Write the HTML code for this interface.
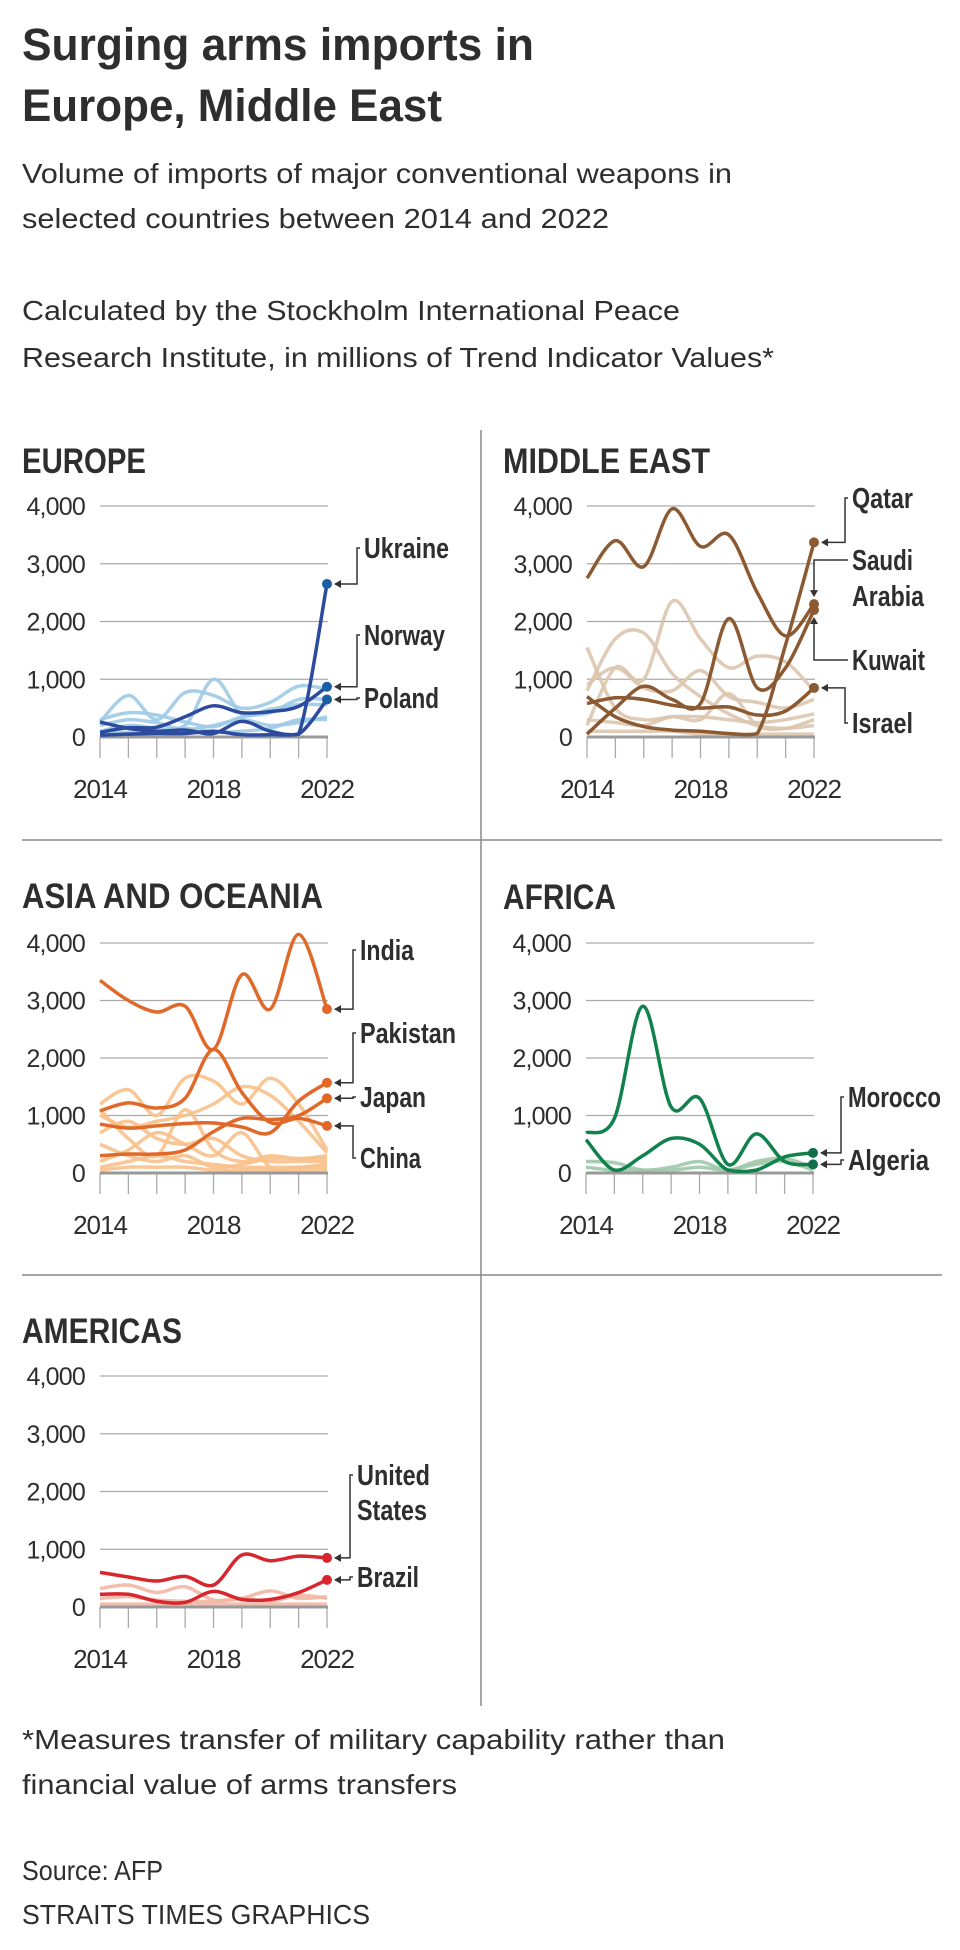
<!DOCTYPE html>
<html><head><meta charset="utf-8"><style>
html,body{margin:0;padding:0;background:#fff;}
svg{display:block;}
text{font-family:"Liberation Sans Narrow","Liberation Sans",sans-serif;fill:#2e2e2e;}
.b{font-weight:bold;}
</style></head><body>
<svg id="chart" width="960" height="1950" viewBox="0 0 960 1950" xmlns="http://www.w3.org/2000/svg">
<text class="b" x="22" y="60" font-size="45" textLength="512" lengthAdjust="spacingAndGlyphs">Surging arms imports in</text>
<text class="b" x="22" y="121" font-size="45" textLength="420" lengthAdjust="spacingAndGlyphs">Europe, Middle East</text>
<text x="22" y="183" font-size="28" textLength="710" lengthAdjust="spacingAndGlyphs">Volume of imports of major conventional weapons in</text>
<text x="22" y="228" font-size="28" textLength="587" lengthAdjust="spacingAndGlyphs">selected countries between 2014 and 2022</text>
<text x="22" y="320" font-size="28" textLength="658" lengthAdjust="spacingAndGlyphs">Calculated by the Stockholm International Peace</text>
<text x="22" y="367" font-size="28" textLength="752" lengthAdjust="spacingAndGlyphs">Research Institute, in millions of Trend Indicator Values*</text>
<line x1="481" y1="430" x2="481" y2="1706" stroke="#888" stroke-width="1.5"/>
<line x1="22" y1="840" x2="942" y2="840" stroke="#888" stroke-width="1.5"/>
<line x1="22" y1="1275" x2="942" y2="1275" stroke="#888" stroke-width="1.5"/>
<g id="panels"></g>
<text x="22" y="1749" font-size="28" textLength="703" lengthAdjust="spacingAndGlyphs">*Measures transfer of military capability rather than</text>
<text x="22" y="1794" font-size="28" textLength="435" lengthAdjust="spacingAndGlyphs">financial value of arms transfers</text>
<text x="22" y="1880" font-size="28" textLength="141" lengthAdjust="spacingAndGlyphs">Source: AFP</text>
<text x="22" y="1924" font-size="28" textLength="348" lengthAdjust="spacingAndGlyphs">STRAITS TIMES GRAPHICS</text>
</svg>
<script>
const years = [2014,2015,2016,2017,2018,2019,2020,2021,2022];
const yTicks = [0,1000,2000,3000,4000];
const yTickLabels = ["0","1,000","2,000","3,000","4,000"];
const xTickLabels = ["2014","2018","2022"];

const europeNames = ["Ukraine","Norway","Poland"];
const europeUkraine = [30,50,60,60,100,40,40,50,2650];
const europeNorway = [80,160,170,350,540,420,440,530,870];
const europePoland = [260,150,100,120,60,270,100,50,650];
const europeOthers = [
 [260,720,300,770,720,500,600,880,830],
 [200,300,250,200,1000,400,480,560,560],
 [300,420,380,260,180,350,420,650,650],
 [100,200,150,120,200,300,200,250,350],
 [50,80,100,150,80,100,150,300,300]];

const meNames = ["Qatar","Saudi Arabia","Kuwait","Israel"];
const meSaudi = [2750,3400,2950,3950,3300,3500,2500,1750,2300];
const meQatar = [700,350,180,120,100,60,60,1600,3370];
const meKuwait = [50,500,880,650,580,2050,850,1200,2200];
const meIsrael = [580,680,650,550,500,520,380,450,850];
const meOthers = [
 [1550,500,300,350,350,300,250,300,400],
 [800,1700,1800,1100,700,400,200,150,200],
 [200,1200,1000,2350,1700,1200,1400,1300,800],
 [900,1200,850,800,1150,700,600,500,650],
 [300,250,200,350,300,750,200,150,300],
 [100,100,100,100,50,50,50,50,50]];

const asiaNames = ["India","Pakistan","Japan","China"];
const asiaIndia = [3350,3000,2800,2900,2150,3450,2850,4150,2850];
const asiaPakistan = [850,780,820,860,870,800,700,1250,1570];
const asiaJapan = [300,330,330,400,720,950,930,1000,1300];
const asiaChina = [1080,1220,1130,1300,2150,1400,880,950,820];
const asiaOthers = [
 [1200,1450,1000,1650,1600,1200,1650,1200,400],
 [1000,800,900,1000,1200,1500,1350,900,350],
 [1100,600,300,1100,400,200,300,250,300],
 [700,900,600,500,600,300,200,200,200],
 [200,400,700,500,300,700,100,100,150],
 [500,300,200,300,100,150,250,250,250],
 [100,200,300,200,150,100,100,100,100],
 [50,100,100,100,50,50,50,50,50]];

const africaNames = ["Morocco","Algeria"];
const africaAlgeria = [700,950,2900,1150,1300,150,680,200,150];
const africaMorocco = [580,50,300,600,500,50,50,280,350];
const africaOthers = [
 [200,180,50,100,200,50,200,250,100],
 [100,50,50,50,100,50,150,200,50]];

const americasNames = ["United States","Brazil"];
const americasUS = [600,520,450,530,380,900,800,880,850];
const americasBrazil = [220,220,100,80,270,130,130,250,470];
const americasOthers = [
 [320,380,250,350,120,150,280,150,180],
 [150,180,120,100,100,150,100,200,150],
 [50,50,50,50,50,50,50,50,50]];

const NS = "http://www.w3.org/2000/svg";
const root = document.getElementById("panels");
function mk(tag, attrs, parent){
  const e = document.createElementNS(NS, tag);
  for (const k in attrs) e.setAttribute(k, attrs[k]);
  parent.appendChild(e);
  return e;
}
function pathFor(vals, xs, ys, floorY){
  const p = vals.map((v,i)=>[xs(i), ys(v)]);
  const cl = y=>Math.min(y, floorY-1);
  let d = "M"+p[0][0]+","+p[0][1];
  for (let i=0;i<p.length-1;i++){
    const p0=p[Math.max(0,i-1)], p1=p[i], p2=p[i+1], p3=p[Math.min(p.length-1,i+2)];
    const c1x=p1[0]+(p2[0]-p0[0])/6, c1y=cl(p1[1]+(p2[1]-p0[1])/6);
    const c2x=p2[0]-(p3[0]-p1[0])/6, c2y=cl(p2[1]-(p3[1]-p1[1])/6);
    d+=" C"+c1x+","+c1y+" "+c2x+","+c2y+" "+p2[0]+","+p2[1];
  }
  return d;
}
function panel(cfg){
  const g = mk("g", {}, root);
  
  
  const x0=cfg.x0, x1=cfg.x0+227, y0=cfg.y0, pxPer=(y0-cfg.yTop)/4000;
  const xs=i=>x0+(x1-x0)*i/(years.length-1);
  const ys=v=>y0-v*pxPer;
  const t = mk("text", {x:cfg.tx, y:cfg.ty, "font-size":35, "class":"b", textLength:cfg.tw, lengthAdjust:"spacingAndGlyphs"}, g);
  t.textContent = cfg.title;
  
  
  yTicks.forEach((v,i)=>{
    if (v>0){
      const gl = mk("line", {x1:x0, x2:x1+1, y1:ys(v), y2:ys(v), stroke:"#aaa", "stroke-width":1.3}, g);
      
      
    }
    const tl = mk("text", {x:x0-15, y:ys(v)+9, "font-size":25, "text-anchor":"end", "font-family":"Liberation Sans, sans-serif", "letter-spacing":"-0.8"}, g);
    tl.textContent = yTickLabels[i];
    
    
  });
  years.forEach((y,i)=>{
    const tk = mk("line", {x1:xs(i), x2:xs(i), y1:y0, y2:y0+21, stroke:"#aaa", "stroke-width":1.3}, g);
    
    
  });
  xTickLabels.forEach(lbl=>{
    const i = years.indexOf(+lbl);
    const xl = mk("text", {x:xs(i), y:y0+61, "font-size":26, "text-anchor":"middle", "font-family":"Liberation Sans, sans-serif", "letter-spacing":"-1"}, g);
    xl.textContent = lbl;
    
    
  });
  cfg.others.forEach(s=>{
    const pl = mk("path", {d:pathFor(s,xs,ys,y0), fill:"none", stroke:cfg.light, "stroke-width":3.5, opacity:0.9}, g);
    
    
  });
  const ax = mk("line", {x1:x0, x2:x1+1, y1:y0, y2:y0, stroke:"#999", "stroke-width":3}, g);
  
  
  cfg.main.forEach(m=>{
    const pl = mk("path", {d:pathFor(m.vals,xs,ys,y0), fill:"none", stroke:cfg.dark, "stroke-width":3.5}, g);
    
    
  });
  cfg.main.forEach(m=>{
    const last = m.vals.length-1;
    const dx = xs(last), dy = ys(m.vals[last]);
    const dot = mk("circle", {cx:dx, cy:dy, r:5, fill:cfg.dot}, g);
    
    
    const ex = cfg.labelX-7, ly = m.ly[0]-10;
    let d;
    if (m.vert){
      d = "M"+dx+","+(dy+(m.vert>0?10:-10))+" L"+dx+","+ly+" L"+(cfg.labelX-4)+","+ly;
    } else {
      d = "M"+(dx+8)+","+dy+" L"+ex+","+dy+" L"+ex+","+ly+" L"+(cfg.labelX-4)+","+ly;
    }
    const c = mk("path", {d:d, fill:"none", stroke:"#333", "stroke-width":1.5}, g);
    
    
    const ah = m.vert ?
      "M"+dx+","+(dy+(m.vert>0?7:-7))+" l-4,"+(m.vert>0?7:-7)+" l8,0 z" :
      "M"+(dx+7)+","+dy+" l7,-4 l0,8 z";
    const a = mk("path", {d:ah, fill:"#333"}, g);
    
    
    m.lines.forEach((ln,j)=>{
      const lt = mk("text", {x:cfg.labelX, y:m.ly[j], "font-size":29, "class":"b", textLength:m.w[j], lengthAdjust:"spacingAndGlyphs"}, g);
      lt.textContent = ln;
      
      
    });
  });
}
panel({id:"europe", title:"EUROPE", tx:22, ty:473, tw:124, x0:100, y0:737, yTop:506, dark:"#2d4b9e", dot:"#1a5fa6", light:"#9dcbe6", labelX:364,
  others:europeOthers,
  main:[{key:"poland",vals:europePoland,lines:[europeNames[2]],ly:[708],w:[75]},
        {key:"norway",vals:europeNorway,lines:[europeNames[1]],ly:[645],w:[81]},
        {key:"ukraine",vals:europeUkraine,lines:[europeNames[0]],ly:[558],w:[85]}]});
panel({id:"middle-east", title:"MIDDLE EAST", tx:503, ty:473, tw:207, x0:587, y0:737, yTop:506, dark:"#8c5a32", dot:"#8c5a32", light:"#dcc5ae", labelX:852,
  others:meOthers,
  main:[{key:"israel",vals:meIsrael,lines:[meNames[3]],ly:[733],w:[61]},
        {key:"kuwait",vals:meKuwait,lines:[meNames[2]],ly:[670],vert:1,w:[73]},
        {key:"saudi-arabia",vals:meSaudi,lines:["Saudi","Arabia"],ly:[570,606],vert:-1,w:[61,72]},
        {key:"qatar",vals:meQatar,lines:[meNames[0]],ly:[508],w:[61]}]});
panel({id:"asia", title:"ASIA AND OCEANIA", tx:22, ty:908, tw:301, x0:100, y0:1173, yTop:943, dark:"#e0692a", dot:"#e0692a", light:"#f8c18b", labelX:360,
  others:asiaOthers,
  main:[{key:"china",vals:asiaChina,lines:[asiaNames[3]],ly:[1168],w:[61]},
        {key:"japan",vals:asiaJapan,lines:[asiaNames[2]],ly:[1107],w:[66]},
        {key:"pakistan",vals:asiaPakistan,lines:[asiaNames[1]],ly:[1043],w:[96]},
        {key:"india",vals:asiaIndia,lines:[asiaNames[0]],ly:[960],w:[54]}]});
panel({id:"africa", title:"AFRICA", tx:503, ty:909, tw:113, x0:586, y0:1173, yTop:943, dark:"#11824c", dot:"#11704a", light:"#a0c8aa", labelX:848,
  others:africaOthers,
  main:[{key:"algeria",vals:africaAlgeria,lines:[africaNames[1]],ly:[1170],w:[81]},
        {key:"morocco",vals:africaMorocco,lines:[africaNames[0]],ly:[1107],w:[93]}]});
panel({id:"americas", title:"AMERICAS", tx:22, ty:1343, tw:160, x0:100, y0:1607, yTop:1376, dark:"#d8262e", dot:"#d8262e", light:"#f2b7a4", labelX:357,
  others:americasOthers,
  main:[{key:"brazil",vals:americasBrazil,lines:[americasNames[1]],ly:[1587],w:[62]},
        {key:"united-states",vals:americasUS,lines:["United","States"],ly:[1485,1520],w:[73,70]}]});
</script>
</body></html>
